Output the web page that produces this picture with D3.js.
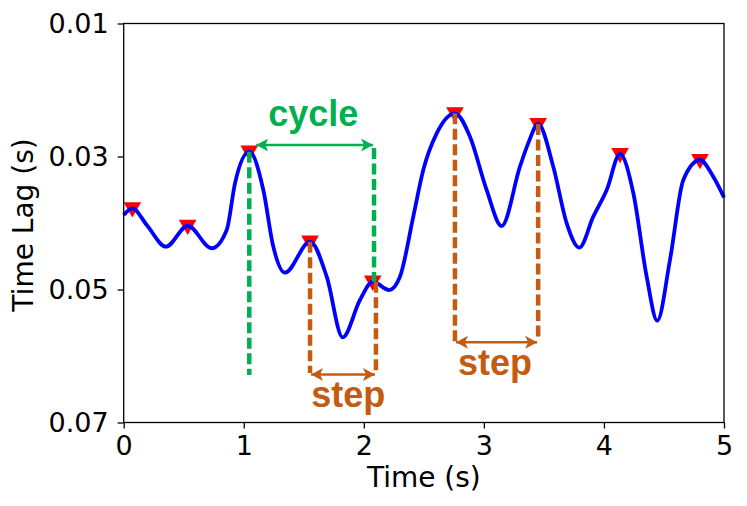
<!DOCTYPE html>
<html><head><meta charset="utf-8">
<script src="https://cdn.jsdelivr.net/npm/d3@7"></script>
<style>
html,body{margin:0;padding:0;background:#fff;}
svg{display:block;}
</style></head>
<body>
<svg id="chart" width="747" height="506"></svg>
<script>
// ---- data ----
const times = [0.0, 0.072, 0.192, 0.352, 0.533, 0.733, 0.858, 0.927, 1.046, 1.163, 1.246, 1.343, 1.552, 1.691, 1.824, 1.968, 2.074, 2.212, 2.301, 2.412, 2.495, 2.607, 2.759, 2.884, 3.023, 3.148, 3.301, 3.369, 3.452, 3.578, 3.690, 3.795, 3.911, 4.023, 4.134, 4.245, 4.356, 4.444, 4.550, 4.661, 4.800, 4.911, 5.0];
const lags  = [0.0388, 0.03779, 0.0403, 0.04356, 0.04041, 0.0438, 0.04105, 0.03403, 0.02928, 0.03504, 0.04356, 0.04747, 0.04281, 0.04808, 0.05719, 0.05158, 0.04883, 0.05008, 0.04808, 0.03905, 0.03203, 0.02651, 0.0235, 0.02702, 0.03504, 0.04045, 0.0315, 0.02803, 0.02511, 0.03153, 0.04005, 0.04371, 0.03905, 0.03504, 0.02962, 0.03553, 0.04808, 0.05469, 0.04556, 0.03353, 0.03053, 0.03304, 0.03614];
const peakTimes = [0.072, 0.533, 1.046, 1.552, 2.074, 2.759, 3.452, 4.134, 4.800];
const peakLags  = [0.03779, 0.04041, 0.02928, 0.04281, 0.04883, 0.0235, 0.02511, 0.02962, 0.03053];
const xTicks = [0, 1, 2, 3, 4, 5];
const yTicks = [0.01, 0.03, 0.05, 0.07];

// annotation anchors (data units)
const cycleGuideTimes = [1.046, 2.085];
const cycleGuideTops = [0.02928, 0.02872];
const cycleGuideBottoms = [0.06286, 0.04883];
const cycleArrowLag = 0.02827;
const cycleLabel = {text: "cycle", t: 1.579, lag: 0.02541};

const stepGuideTimes = [[1.552, 2.101], [2.759, 3.452]];
const stepGuideTops = [[0.04281, 0.04883], [0.0235, 0.02511]];
const stepGuideBottoms = [[0.06256, 0.06256], [0.05789, 0.05744]];
const stepArrowLags = [0.06278, 0.05794];
const stepLabels = [{text: "step", t: 1.87, lag: 0.06767}, {text: "step", t: 3.093, lag: 0.06286}];

// ---- layout ----
const svg = d3.select("#chart");
const L = 123.7, R = 724, T = 23.5, B = 422.5;
const x = d3.scaleLinear().domain([0, 5]).range([L, R]);
const y = d3.scaleLinear().domain([0.01, 0.07]).range([T, B]);

const GREEN = "#00b050", ORANGE = "#c55a11";

const defs = svg.append("defs");
function arrowMarker(id, color) {
  defs.append("marker").attr("id", id)
    .attr("viewBox", "0 0 12 13").attr("refX", 12).attr("refY", 6.5)
    .attr("markerWidth", 12).attr("markerHeight", 13)
    .attr("markerUnits", "userSpaceOnUse").attr("orient", "auto-start-reverse")
    .append("path").attr("d", "M0,0 L12,6.5 L0,13 L3,6.5 Z").attr("fill", color);
}
arrowMarker("arrG", GREEN);
arrowMarker("arrO", ORANGE);

// axes
const xAxis = d3.axisBottom(x).tickValues(xTicks).tickFormat(d3.format("d")).tickSize(6).tickPadding(7);
const yAxis = d3.axisLeft(y).tickValues(yTicks).tickFormat(d3.format(".2f")).tickSize(6).tickPadding(9);

const gx = svg.append("g").attr("transform", `translate(0,${B})`).call(xAxis);
const gy = svg.append("g").attr("transform", `translate(${L},0)`).call(yAxis);
[gx, gy].forEach(g => {
  g.select(".domain").remove();
  g.selectAll(".tick line").attr("stroke", "#000").attr("stroke-width", 1.3);
  g.selectAll(".tick text").attr("font-family", "DejaVu Sans").attr("font-size", 27).attr("fill", "#000");
});

// markers (below line)
const tri = d3.symbol().type(d3.symbolTriangle).size(135);
svg.append("g").selectAll("path").data(peakTimes).join("path")
  .attr("d", tri)
  .attr("transform", (d, i) => `translate(${x(d)},${y(peakLags[i]) - 1}) rotate(180)`)
  .attr("fill", "#ff0000");

// line
const line = d3.line().x((d, i) => x(times[i])).y((d, i) => y(lags[i])).curve(d3.curveMonotoneX);
svg.append("path").datum(lags).attr("d", line)
  .attr("fill", "none").attr("stroke", "#0000ff").attr("stroke-width", 3.8).attr("stroke-linejoin", "round");

// frame
svg.append("rect").attr("x", L).attr("y", T).attr("width", R - L).attr("height", B - T)
  .attr("fill", "none").attr("stroke", "#000").attr("stroke-width", 1.3);

// axis labels
svg.append("text").attr("x", (L + R) / 2).attr("y", 487).attr("text-anchor", "middle")
  .attr("font-family", "DejaVu Sans").attr("font-size", 28).text("Time (s)");
svg.append("text").attr("transform", "translate(33,225) rotate(-90)").attr("text-anchor", "middle")
  .attr("font-family", "DejaVu Sans").attr("font-size", 28).text("Time Lag (s)");

// cycle annotation
const ann = svg.append("g");
cycleGuideTimes.forEach((t, i) => {
  ann.append("line").attr("x1", x(t)).attr("x2", x(t))
    .attr("y1", y(cycleGuideTops[i])).attr("y2", y(cycleGuideBottoms[i]))
    .attr("stroke", GREEN).attr("stroke-width", 4.5).attr("stroke-dasharray", "11,4.5");
});
ann.append("line")
  .attr("x1", x(cycleGuideTimes[0]) + 7).attr("x2", x(cycleGuideTimes[1]) - 1)
  .attr("y1", y(cycleArrowLag)).attr("y2", y(cycleArrowLag))
  .attr("stroke", GREEN).attr("stroke-width", 2.5)
  .attr("marker-start", "url(#arrG)").attr("marker-end", "url(#arrG)");
ann.append("text").attr("x", x(cycleLabel.t)).attr("y", y(cycleLabel.lag)).attr("text-anchor", "middle")
  .attr("font-family", "Liberation Sans, Arial, sans-serif").attr("font-weight", "bold").attr("font-size", 36)
  .attr("fill", GREEN).text(cycleLabel.text);

// step annotations
stepGuideTimes.forEach((pair, k) => {
  pair.forEach((t, i) => {
    ann.append("line").attr("x1", x(t)).attr("x2", x(t))
      .attr("y1", y(stepGuideTops[k][i])).attr("y2", y(stepGuideBottoms[k][i]))
      .attr("stroke", ORANGE).attr("stroke-width", 4.5).attr("stroke-dasharray", "11,4.5");
  });
  ann.append("line")
    .attr("x1", x(pair[0]) + 1).attr("x2", x(pair[1]) - 1)
    .attr("y1", y(stepArrowLags[k])).attr("y2", y(stepArrowLags[k]))
    .attr("stroke", ORANGE).attr("stroke-width", 2.5)
    .attr("marker-start", "url(#arrO)").attr("marker-end", "url(#arrO)");
  ann.append("text").attr("x", x(stepLabels[k].t)).attr("y", y(stepLabels[k].lag)).attr("text-anchor", "middle")
    .attr("font-family", "Liberation Sans, Arial, sans-serif").attr("font-weight", "bold").attr("font-size", 36)
    .attr("fill", ORANGE).text(stepLabels[k].text);
});
</script>
</body></html>
